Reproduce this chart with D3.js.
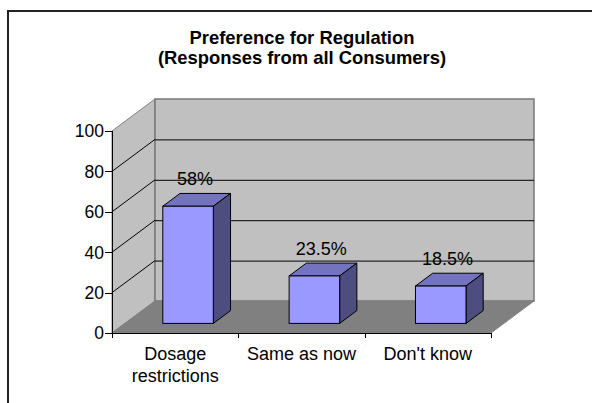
<!DOCTYPE html>
<html>
<head>
<meta charset="utf-8">
<script src="https://cdn.jsdelivr.net/npm/d3@7"></script>
<style>
  body { margin: 0; background: #fff; }
  text { font-family: "Liberation Sans", Arial, sans-serif; fill: #000; }
</style>
</head>
<body>
<div id="chart"></div>
<script>
// Data
const categories = ['Dosage restrictions', 'Same as now', "Don't know"]
const catLines = [['Dosage', 'restrictions'], ['Same as now'], ["Don't know"]]
const values = [58, 23.5, 18.5]
const yTicks = [0, 20, 40, 60, 80, 100]
const titleLines = ['Preference for Regulation', '(Responses from all Consumers)']

// Canvas
const width = 592,
  height = 403

// 3d depth offset of the plot box
const dx = 43,
  dy = -32
const barFront = 0.3,
  barBack = 0.7

const svg = d3.select('#chart')
  .append('svg')
  .attr('width', width)
  .attr('height', height)

// chart border (top + left only visible)
svg.append('path')
  .attr('d', 'M8,403 L8,11 L592,11')
  .attr('fill', 'none')
  .attr('stroke', '#222')
  .attr('stroke-width', 2)

const x = d3.scaleBand()
  .domain(categories)
  .range([112, 491])
  .paddingInner(0)
  .paddingOuter(0)

const y = d3.scaleLinear()
  .domain([0, 100])
  .range([333, 131])

const x0 = x.range()[0], x1 = x.range()[1]
const yb = y(0), yt = y(100)

// walls
svg.append('polygon')
  .attr('points', [[x0, yb], [x0 + dx, yb + dy], [x0 + dx, yt + dy], [x0, yt]].join(' '))
  .attr('fill', '#c0c0c0')
  .attr('stroke', '#808080')

svg.append('polygon')
  .attr('points', [[x0 + dx, yb + dy], [x1 + dx, yb + dy], [x1 + dx, yt + dy], [x0 + dx, yt + dy]].join(' '))
  .attr('fill', '#c0c0c0')
  .attr('stroke', '#777')
  .attr('stroke-width', 1.5)

// gridlines
const grid = yTicks.filter(d => d > 0 && d < 100)
svg.selectAll('.gridside')
  .data(grid)
  .enter()
  .append('line')
  .attr('x1', x0)
  .attr('y1', d => y(d))
  .attr('x2', x0 + dx)
  .attr('y2', d => y(d) + dy)
  .attr('stroke', '#000')

svg.selectAll('.gridback')
  .data(grid)
  .enter()
  .append('line')
  .attr('x1', x0 + dx)
  .attr('y1', d => y(d) + dy + 0.5)
  .attr('x2', x1 + dx)
  .attr('y2', d => y(d) + dy + 0.5)
  .attr('stroke', '#000')

// floor
svg.append('polygon')
  .attr('points', [[x0, yb], [x1, yb], [x1 + dx, yb + dy], [x0 + dx, yb + dy]].join(' '))
  .attr('fill', '#808080')
  .attr('stroke', '#808080')

// axes
svg.append('line')
  .attr('x1', x0 + 0.5).attr('y1', yt)
  .attr('x2', x0 + 0.5).attr('y2', yb)
  .attr('stroke', '#000')

svg.append('line')
  .attr('x1', x0).attr('y1', yb + 0.5)
  .attr('x2', x1).attr('y2', yb + 0.5)
  .attr('stroke', '#000')

svg.selectAll('.ytick')
  .data(yTicks)
  .enter()
  .append('line')
  .attr('x1', x0 - 7)
  .attr('x2', x0)
  .attr('y1', d => Math.round(y(d)) + 0.5)
  .attr('y2', d => Math.round(y(d)) + 0.5)
  .attr('stroke', '#000')

svg.selectAll('.ylabel')
  .data(yTicks)
  .enter()
  .append('text')
  .attr('x', x0 - 8)
  .attr('y', d => y(d))
  .attr('dy', '0.37em')
  .attr('text-anchor', 'end')
  .style('font-size', '17.5px')
  .text(d => d)

// category ticks
const bounds = d3.range(categories.length + 1).map(i => x0 + i * x.bandwidth())
svg.selectAll('.xtick')
  .data(bounds)
  .enter()
  .append('line')
  .attr('x1', d => Math.round(d) + 0.5)
  .attr('x2', d => Math.round(d) + 0.5)
  .attr('y1', yb)
  .attr('y2', yb + 5)
  .attr('stroke', '#000')

// category labels
const catG = svg.selectAll('.cat')
  .data(categories)
  .enter()
  .append('text')
  .attr('text-anchor', 'middle')
  .style('font-size', '18px')

catG.selectAll('tspan')
  .data((d, i) => catLines[i].map(t => ({ t: t, c: d })))
  .enter()
  .append('tspan')
  .attr('x', d => x(d.c) + x.bandwidth() / 2)
  .attr('y', (d, i) => 359.5 + i * 22)
  .text(d => d.t)

// bars
const bw = x.bandwidth() / 2.5
const bars = svg.selectAll('.bar')
  .data(values)
  .enter()
  .append('g')
  .attr('class', 'bar')

bars.each(function (v, i) {
  const g = d3.select(this)
  const cx = x(categories[i]) + x.bandwidth() / 2
  const fx = cx - bw / 2 + dx * barFront
  const fy = dy * barFront
  const ox = dx * (barBack - barFront),
    oy = dy * (barBack - barFront)
  const top = y(v) + fy,
    bot = y(0) + fy

  // top face
  g.append('polygon')
    .attr('points', [[fx, top], [fx + bw, top], [fx + bw + ox, top + oy], [fx + ox, top + oy]].join(' '))
    .attr('fill', '#7373bf')
    .attr('stroke', '#000')
  // side face
  g.append('polygon')
    .attr('points', [[fx + bw, top], [fx + bw + ox, top + oy], [fx + bw + ox, bot + oy], [fx + bw, bot]].join(' '))
    .attr('fill', '#4d4d80')
    .attr('stroke', '#000')
  // front face
  g.append('rect')
    .attr('x', fx)
    .attr('y', top)
    .attr('width', bw)
    .attr('height', bot - top)
    .attr('fill', '#9999ff')
    .attr('stroke', '#000')
})

// value labels
svg.selectAll('.vlabel')
  .data(values)
  .enter()
  .append('text')
  .attr('x', (d, i) => x(categories[i]) + x.bandwidth() / 2 + dx * 0.46)
  .attr('y', d => y(d) + dy * barBack - 8)
  .attr('text-anchor', 'middle')
  .style('font-size', '18px')
  .text(d => d + '%')

// title
svg.append('text')
  .attr('text-anchor', 'middle')
  .style('font-size', '18.4px')
  .style('font-weight', 'bold')
  .selectAll('tspan')
  .data(titleLines)
  .enter()
  .append('tspan')
  .attr('x', 302)
  .attr('y', (d, i) => 44 + i * 19.5)
  .text(d => d)
</script>
</body>
</html>
